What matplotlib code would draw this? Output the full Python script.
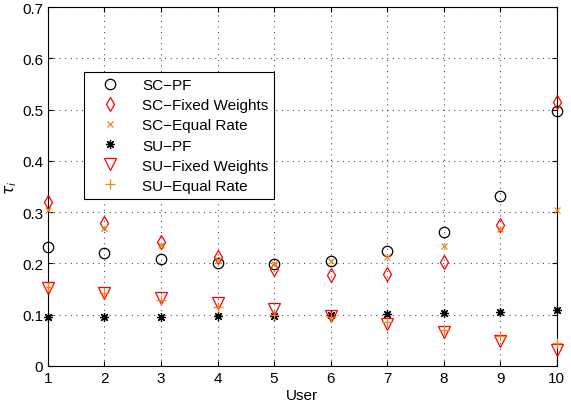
import matplotlib
matplotlib.use("Agg")
import matplotlib.pyplot as plt

users = [1, 2, 3, 4, 5, 6, 7, 8, 9, 10]
sc_pf = [0.233, 0.220, 0.208, 0.201, 0.198, 0.205, 0.224, 0.261, 0.332, 0.497]
sc_fixed = [0.320, 0.278, 0.242, 0.213, 0.190, 0.178, 0.180, 0.203, 0.275, 0.516]
sc_equal = [0.305, 0.270, 0.236, 0.207, 0.198, 0.204, 0.213, 0.234, 0.268, 0.305]
su_pf = [0.095, 0.095, 0.096, 0.097, 0.098, 0.100, 0.102, 0.103, 0.106, 0.110]
su_fixed = [0.153, 0.143, 0.133, 0.123, 0.112, 0.097, 0.082, 0.066, 0.049, 0.032]
su_equal = [0.155, 0.143, 0.128, 0.115, 0.100, 0.095, 0.085, 0.070, 0.058, 0.045]
labels = ["SC\u2212PF", "SC\u2212Fixed Weights", "SC\u2212Equal Rate",
          "SU\u2212PF", "SU\u2212Fixed Weights", "SU\u2212Equal Rate"]

plt.rcParams['font.family'] = ['Liberation Sans', 'DejaVu Sans']
orange = '#e8891a'

fig = plt.figure(figsize=(5.71, 4.10), dpi=100)
ax = fig.add_axes([0.084, 0.105, 0.891, 0.875])

kw = dict(linestyle='none', clip_on=False, zorder=3)
ax.plot(users, sc_pf, marker='o', mfc='none', mec='black', ms=7.5, mew=0.9, label=labels[0], **kw)
ax.plot(users, sc_fixed, marker='d', mfc='none', mec='red', ms=7.5, mew=0.9, label=labels[1], **kw)
ax.plot(users, sc_equal, marker='x', color=orange, ms=5, mew=0.9, label=labels[2], **kw)
ax.plot(users, su_pf, marker=(8, 2, 0), color='black', ms=6.5, mew=0.9, label=labels[3], **kw)
ax.plot(users, su_fixed, marker='v', mfc='none', mec='red', ms=8, mew=0.9, label=labels[4], **kw)
ax.plot(users, su_equal, marker='+', color=orange, ms=7.5, mew=0.9, label=labels[5], **kw)

ax.set_xlim(1, 10)
ax.set_ylim(0, 0.7)
ax.set_xticks(users)
ax.set_yticks([0, 0.1, 0.2, 0.3, 0.4, 0.5, 0.6, 0.7])
ax.set_yticklabels(['0', '0.1', '0.2', '0.3', '0.4', '0.5', '0.6', '0.7'])
ax.tick_params(direction='in', top=True, right=True, labelsize=11)
ax.grid(True, linestyle=(0, (1, 4)), color='#555555', linewidth=0.8)
ax.set_xlabel('User', fontsize=11, labelpad=2)
ax.set_ylabel(r'$\tau_i$', fontsize=11, labelpad=2)

leg = ax.legend(loc='upper left', bbox_to_anchor=(0.0707, 0.819), fontsize=11,
                fancybox=False, edgecolor='black', framealpha=1, borderaxespad=0,
                handletextpad=0.8, labelspacing=0.4, borderpad=0.4, handlelength=2.6)
leg.get_frame().set_linewidth(0.8)

fig.savefig('out.png', dpi=100)
